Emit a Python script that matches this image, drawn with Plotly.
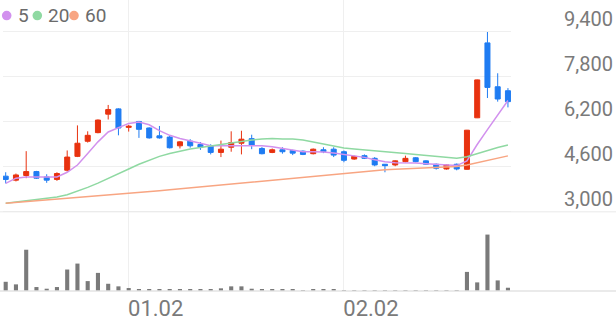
import plotly.graph_objects as go

# ---------------- data ----------------
idx = list(range(50))
tick_pos = [12, 33]
tick_text = ["01.02", "02.02"]
price_ticks = [3000, 4600, 6200, 7800, 9400]

open_ = [4266, 4125, 4290, 4430, 4240, 4150, 4477, 4970, 5507, 5813,
         6470, 6657, 6000, 6210, 5978, 5700, 5655, 5345, 5510, 5390,
         5345, 5110, 5295, 5437, 5600, 5250, 5110, 5205, 5180, 5155,
         5065, 5205, 5225, 5135, 4875, 4995, 4900, 4690, 4665, 4782,
         4920, 4810, 4690, 4522, 4690, 4510, 6340, 9002, 7443, 7302]
high = [4406, 4360, 5155, 4455, 4335, 4405, 5180, 6070, 5860, 6280,
        6797, 6680, 6090, 6230, 6000, 6050, 5700, 5510, 5580, 5480,
        5400, 5530, 5860, 5880, 5740, 5300, 5250, 5295, 5205, 5180,
        5250, 5295, 5295, 5180, 4995, 5040, 4945, 4700, 4830, 4995,
        4945, 4830, 4715, 4690, 4715, 5910, 7700, 9388, 7922, 7395]
low = [4009, 4080, 4195, 4170, 4030, 4100, 4430, 4945, 5460, 5790,
       6280, 5718, 5850, 5626, 5600, 5600, 5250, 5250, 5280, 5200,
       5040, 4945, 5135, 5040, 5225, 5040, 5085, 5065, 5015, 5015,
       5040, 5085, 4945, 4760, 4850, 4875, 4620, 4405, 4620, 4760,
       4760, 4665, 4500, 4500, 4475, 4500, 6330, 7043, 6914, 6710]
close = [4150, 4310, 4430, 4195, 4125, 4360, 4945, 5437, 5718, 6260,
         6632, 5978, 6040, 5930, 5626, 5626, 5275, 5485, 5345, 5295,
         5110, 5225, 5460, 5580, 5370, 5065, 5205, 5135, 5085, 5040,
         5225, 5135, 5015, 4830, 4970, 4900, 4665, 4640, 4810, 4900,
         4782, 4690, 4547, 4665, 4522, 5900, 7687, 7420, 7008, 6914]

ma5 = [4009, 4195, 4241, 4241, 4220, 4241, 4406, 4663, 5074, 5486,
       5837, 5978, 6140, 6189, 6094, 5883, 5718, 5602, 5507, 5437,
       5345, 5345, 5338, 5345, 5356, 5345, 5310, 5250, 5180, 5134,
       5134, 5127, 5092, 5039, 4994, 4934, 4853, 4776, 4740, 4740,
       4733, 4705, 4677, 4653, 4642, 4811, 5391, 5918, 6446, 6956]
ma20 = [3306, 3352, 3387, 3422, 3468, 3527, 3608, 3728, 3868, 4020,
        4195, 4361, 4522, 4688, 4839, 4969, 5074, 5155, 5233, 5285,
        5338, 5415, 5461, 5507, 5549, 5584, 5602, 5591, 5584, 5549,
        5479, 5408, 5338, 5268, 5233, 5205, 5180, 5145, 5110, 5074,
        5039, 5004, 4969, 4934, 4899, 4958, 5074, 5190, 5285, 5373]
ma60 = [3306, 3334, 3362, 3390, 3418, 3447, 3475, 3503, 3534, 3563,
        3591, 3619, 3650, 3679, 3714, 3745, 3781, 3816, 3851, 3883,
        3918, 3953, 3984, 4020, 4055, 4090, 4125, 4160, 4192, 4227,
        4262, 4297, 4333, 4368, 4403, 4438, 4473, 4498, 4515, 4529,
        4547, 4561, 4579, 4593, 4607, 4660, 4740, 4828, 4906, 4987]

volume = [93000, 67000, 417000, 40000, 23000, 40000, 217000, 277000, 100000, 183000,
          73000, 47000, 30000, 20000, 15000, 15000, 15000, 15000, 15000, 15000,
          15000, 27000, 47000, 47000, 23000, 13000, 13000, 13000, 13000, 8000,
          11000, 11000, 17000, 10000, 8000, 8000, 8000, 8000, 8000, 8000,
          8000, 8000, 8000, 8000, 8000, 193000, 87000, 570000, 107000, 33000]

ma_names = ["5", "20", "60"]
ma_colors = ["#d291ee", "#8fd9a2", "#f8a582"]
up_color = "#e8320f"
down_color = "#1f7cf2"
vol_color = "#7a7a7a"

# ---------------- layout geometry ----------------
W, H = 616, 321
L, R, T, B = 3, 511, 0, 294          # plot area in pixels
pw, ph = R - L, B - T

def px_x(x):
    return (x - L) / pw

def px_y(y):
    return (B - y) / ph

fig = go.Figure()

fig.add_trace(go.Bar(
    x=idx, y=volume, width=0.4, marker=dict(color=vol_color, line=dict(width=0)),
    yaxis="y2", hoverinfo="skip", showlegend=False))

fig.add_trace(go.Candlestick(
    x=idx, open=open_, high=high, low=low, close=close,
    increasing=dict(line=dict(color=up_color, width=1), fillcolor=up_color),
    decreasing=dict(line=dict(color=down_color, width=1), fillcolor=down_color),
    whiskerwidth=0, hoverinfo="skip", showlegend=False))

for name, vals, col in zip(ma_names, [ma5, ma20, ma60], ma_colors):
    fig.add_trace(go.Scatter(x=idx, y=vals, mode="lines", name=name,
                             line=dict(color=col, width=1.5),
                             hoverinfo="skip", showlegend=False))

shapes = []
annotations = []
# separator at price bottom and volume baseline (full width)
shapes.append(dict(type="line", xref="paper", yref="y",
                   x0=px_x(0), x1=px_x(W), y0=3000, y1=3000,
                   line=dict(color="#e9e9e9", width=1)))
shapes.append(dict(type="line", xref="paper", yref="paper",
                   x0=px_x(0), x1=px_x(W), y0=0, y1=0,
                   line=dict(color="#e3e3e3", width=1.5)))

# legend (dots + labels)
dot_x = [6.7, 37.3, 74.0]
txt_x = [15.5, 46.0, 82.5]
for name, col, dx, tx in zip(ma_names, ma_colors, dot_x, txt_x):
    shapes.append(dict(type="circle", xref="paper", yref="paper",
                       xsizemode="pixel", ysizemode="pixel",
                       xanchor=px_x(dx), yanchor=px_y(15.7),
                       x0=-4.8, x1=4.8, y0=-4.8, y1=4.8,
                       fillcolor=col, line=dict(width=0)))
    annotations.append(dict(text=name, xref="paper", yref="paper",
                            x=px_x(tx), y=px_y(15.7), xanchor="left", yanchor="middle",
                            showarrow=False, font=dict(size=19, color="#6b6b6b")))

# price range so that 3000 sits at y=214 px and 9400 at y=32 px
ppp = (9400 - 3000) / (214 - 32)
p_top = 3000 + (214 - T) * ppp
p_bot = 3000 - (B - 214) * ppp

fig.update_layout(
    width=W, height=H,
    margin=dict(l=L, r=W - R, t=T, b=H - B, pad=0),
    paper_bgcolor="white", plot_bgcolor="white",
    font=dict(family="Roboto, sans-serif", color="#7a7a7a"),
    showlegend=False,
    shapes=shapes, annotations=annotations,
    xaxis=dict(range=[(L - 5.7) / 10.25, (R - 5.7) / 10.25],
               tickmode="array", tickvals=tick_pos, ticktext=tick_text,
               showgrid=True, gridcolor="#efefef", gridwidth=1,
               zeroline=False, showline=False, ticks="",
               tickfont=dict(size=22, color="#7a7a7a"),
               ticklabelshift=27, ticklabelstandoff=2,
               rangeslider=dict(visible=False), fixedrange=True),
    yaxis=dict(range=[p_bot, p_top], side="right",
               tickmode="array", tickvals=price_ticks,
               ticktext=[f"{v:,}" for v in price_ticks],
               showgrid=True, gridcolor="#efefef", gridwidth=1,
               zeroline=False, showline=False, ticks="",
               tickfont=dict(size=20, color="#7a7a7a"),
               ticklabelshift=-13, ticklabelstandoff=52, fixedrange=True),
    yaxis2=dict(range=[0, 570000 * ph / 57], overlaying="y", side="left",
                showgrid=False, zeroline=False, showticklabels=False,
                ticks="", fixedrange=True),
)

fig.write_html("out.html")
